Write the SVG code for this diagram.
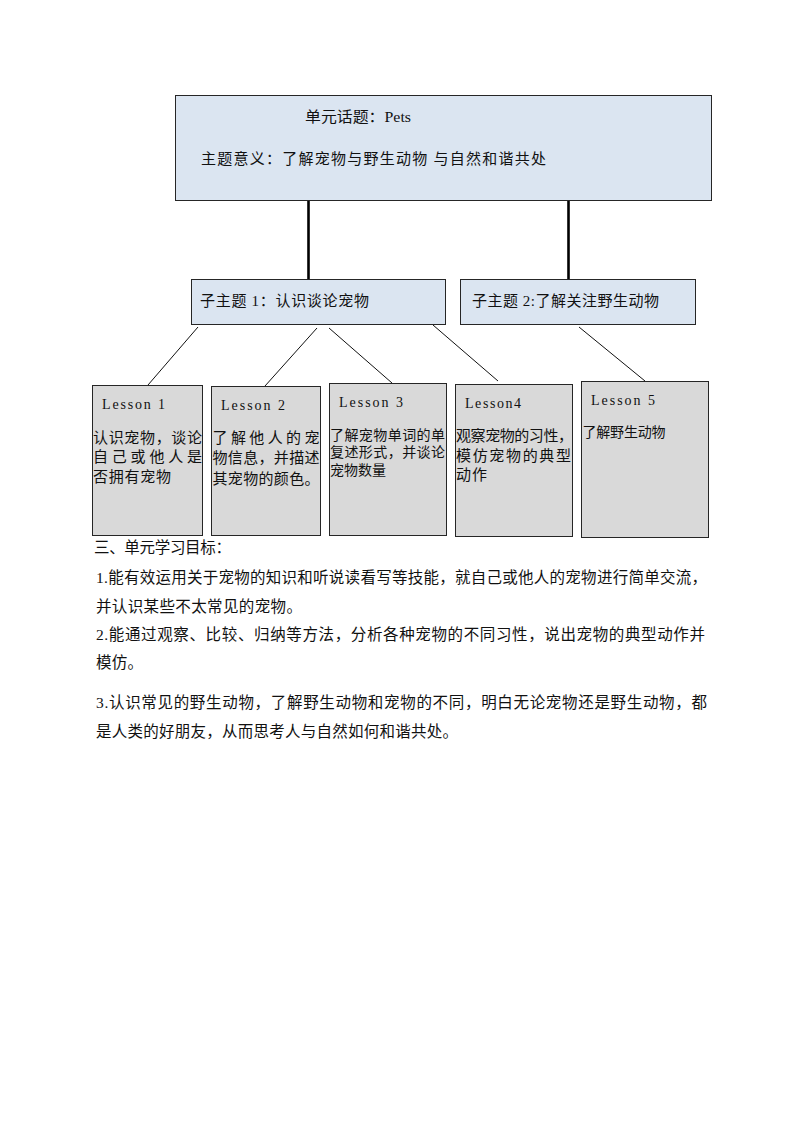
<svg xmlns="http://www.w3.org/2000/svg" width="793" height="1123" viewBox="0 0 793 1123">
<style>
.bg{fill:#ffffff}
.topic{fill:#dbe5f1;stroke:#262626;stroke-width:1}
.lesson{fill:#d9d9d9;stroke:#262626;stroke-width:1}
.thick{stroke:#000;stroke-width:2.6;fill:none}
.thin{stroke:#111;stroke-width:1;fill:none}
text{font-family:"Liberation Serif","Noto Sans CJK SC",serif;fill:#111}
.t15{font-size:15px}
.t14{font-size:14px}
.b{font-size:15.5px}
</style>
<rect class="bg" x="0" y="0" width="793" height="1123"/>
<g id="connectors">
<line class="thick" x1="308.5" y1="201" x2="308.5" y2="280"/>
<line class="thick" x1="568.5" y1="201" x2="568.5" y2="280"/>
<line class="thin" x1="198" y1="327" x2="148" y2="385"/>
<line class="thin" x1="317" y1="328" x2="265" y2="386"/>
<line class="thin" x1="329" y1="328" x2="392" y2="383"/>
<line class="thin" x1="433" y1="325" x2="498" y2="381"/>
<line class="thin" x1="579" y1="327" x2="645" y2="381"/>
</g>
<g id="unit-topic">
<rect class="topic" x="175.5" y="95.5" width="536" height="105"/>
<text class="t15" x="305" y="122" textLength="106" lengthAdjust="spacingAndGlyphs">单元话题：Pets</text>
<text class="t15" x="201" y="164" textLength="345" lengthAdjust="spacing">主题意义：了解宠物与野生动物 与自然和谐共处</text>
</g>
<g id="subtopic-1">
<rect class="topic" x="191.5" y="279.5" width="254" height="45"/>
<text class="t15" x="200" y="306" textLength="169" lengthAdjust="spacing">子主题 1：认识谈论宠物</text>
</g>
<g id="subtopic-2">
<rect class="topic" x="460.5" y="279.5" width="235" height="45"/>
<text class="t15" x="472" y="306" textLength="187" lengthAdjust="spacing">子主题 2:了解关注野生动物</text>
</g>
<g id="lesson-1">
<rect class="lesson" x="92.5" y="385.5" width="110" height="150"/>
<text class="t14" x="102" y="409" textLength="63" lengthAdjust="spacing">Lesson 1</text>
<text class="t15" x="93" y="443" textLength="109" lengthAdjust="spacing">认识宠物，谈论</text>
<text class="t15" x="93" y="462" textLength="109" lengthAdjust="spacing">自己或他人是</text>
<text class="t15" x="93" y="482" textLength="78" lengthAdjust="spacing">否拥有宠物</text>
</g>
<g id="lesson-2">
<rect class="lesson" x="211.5" y="386.5" width="109" height="149"/>
<text class="t14" x="221" y="410" textLength="64" lengthAdjust="spacing">Lesson 2</text>
<text class="t15" x="212.5" y="443" textLength="107" lengthAdjust="spacing">了解他人的宠</text>
<text class="t15" x="212.5" y="463" textLength="107" lengthAdjust="spacing">物信息，并描述</text>
<text class="t15" x="212.5" y="484" textLength="107" lengthAdjust="spacing">其宠物的颜色。</text>
</g>
<g id="lesson-3">
<rect class="lesson" x="329.5" y="383.5" width="117" height="152"/>
<text class="t14" x="339" y="407" textLength="64" lengthAdjust="spacing">Lesson 3</text>
<text class="t14" x="330" y="440" textLength="115" lengthAdjust="spacing">了解宠物单词的单</text>
<text class="t14" x="330" y="457" textLength="115" lengthAdjust="spacing">复述形式，并谈论</text>
<text class="t14" x="330" y="475" textLength="56" lengthAdjust="spacing">宠物数量</text>
</g>
<g id="lesson-4">
<rect class="lesson" x="455.5" y="384.5" width="117" height="152"/>
<text class="t14" x="465" y="408" textLength="56" lengthAdjust="spacing">Lesson4</text>
<text class="t15" x="456" y="441" textLength="117" lengthAdjust="spacing">观察宠物的习性，</text>
<text class="t15" x="456" y="461" textLength="115" lengthAdjust="spacing">模仿宠物的典型</text>
<text class="t15" x="456" y="480" textLength="31" lengthAdjust="spacing">动作</text>
</g>
<g id="lesson-5">
<rect class="lesson" x="581.5" y="381.5" width="127" height="156"/>
<text class="t14" x="591" y="405" textLength="64" lengthAdjust="spacing">Lesson 5</text>
<text class="t14" x="582.5" y="437" textLength="83" lengthAdjust="spacing">了解野生动物</text>
</g>
<g id="objectives">
<text class="b" x="94" y="553" textLength="137" lengthAdjust="spacing">三、单元学习目标：</text>
<text class="b" x="96" y="583" textLength="611" lengthAdjust="spacing">1.能有效运用关于宠物的知识和听说读看写等技能，就自己或他人的宠物进行简单交流，</text>
<text class="b" x="96" y="612" textLength="206" lengthAdjust="spacing">并认识某些不太常见的宠物。</text>
<text class="b" x="96" y="640" textLength="609" lengthAdjust="spacing">2.能通过观察、比较、归纳等方法，分析各种宠物的不同习性，说出宠物的典型动作并</text>
<text class="b" x="96" y="668" textLength="47" lengthAdjust="spacing">模仿。</text>
<text class="b" x="96" y="708" textLength="611" lengthAdjust="spacing">3.认识常见的野生动物，了解野生动物和宠物的不同，明白无论宠物还是野生动物，都</text>
<text class="b" x="96" y="737" textLength="362" lengthAdjust="spacing">是人类的好朋友，从而思考人与自然如何和谐共处。</text>
</g>
</svg>
